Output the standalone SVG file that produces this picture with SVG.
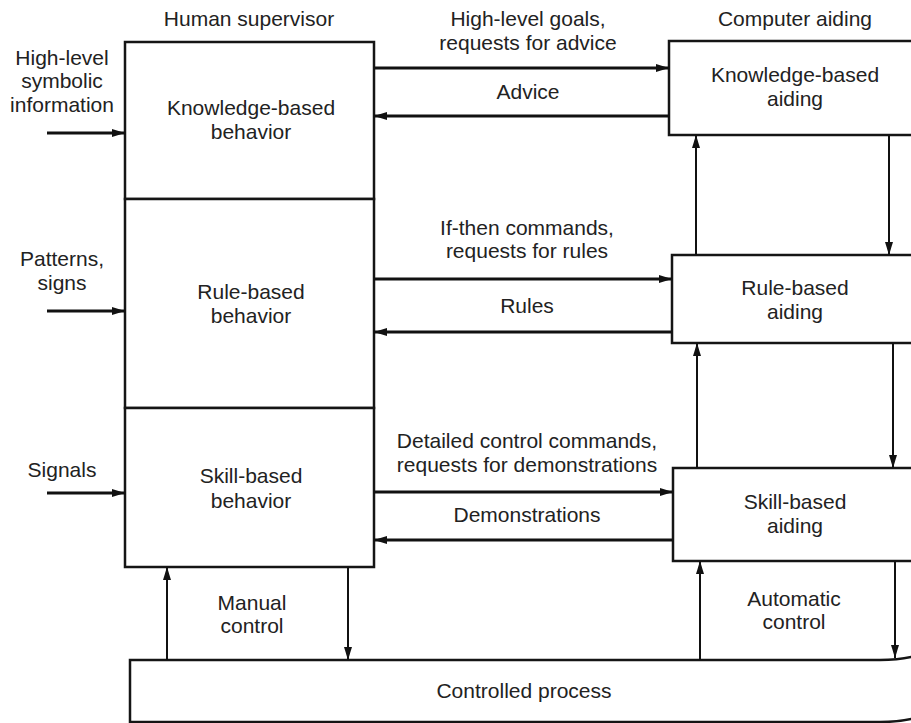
<svg xmlns="http://www.w3.org/2000/svg" width="911" height="723" viewBox="0 0 911 723">
  <defs>
    <style>
      .box { fill: #ffffff; stroke: #151515; stroke-width: 2.5; }
      .lbl { font-family: "Liberation Sans", Arial, Helvetica, sans-serif; font-size: 21px; fill: #222222; text-anchor: middle; }
      .thick { stroke: #111111; stroke-width: 3; fill: none; }
      .thin { stroke: #111111; stroke-width: 2; fill: none; }
    </style>
    <marker id="head" markerUnits="userSpaceOnUse" markerWidth="14" markerHeight="10" refX="13" refY="5" orient="auto">
      <path d="M0,1 L13,5 L0,9 z" fill="#111111"/>
    </marker>
  </defs>

  <rect width="911" height="723" fill="#ffffff"/>

  <!-- column headings -->
  <text class="lbl" x="249" y="26">Human supervisor</text>
  <text class="lbl" x="795" y="26">Computer aiding</text>

  <!-- human supervisor levels -->
  <g id="knowledge-behavior">
    <rect class="box" x="125" y="42" width="249" height="157"/>
    <text class="lbl" x="251" y="115">Knowledge-based</text>
    <text class="lbl" x="251" y="139">behavior</text>
  </g>
  <g id="rule-behavior">
    <rect class="box" x="125" y="199" width="249" height="209"/>
    <text class="lbl" x="251" y="299">Rule-based</text>
    <text class="lbl" x="251" y="323">behavior</text>
  </g>
  <g id="skill-behavior">
    <rect class="box" x="125" y="408" width="249" height="159"/>
    <text class="lbl" x="251" y="483">Skill-based</text>
    <text class="lbl" x="251" y="508">behavior</text>
  </g>

  <!-- computer aiding levels (right edges run off the page) -->
  <g id="knowledge-aiding">
    <rect class="box" x="669" y="41" width="260" height="94"/>
    <text class="lbl" x="795" y="82">Knowledge-based</text>
    <text class="lbl" x="795" y="106">aiding</text>
  </g>
  <g id="rule-aiding">
    <rect class="box" x="672" y="255" width="260" height="88"/>
    <text class="lbl" x="795" y="295">Rule-based</text>
    <text class="lbl" x="795" y="319">aiding</text>
  </g>
  <g id="skill-aiding">
    <rect class="box" x="673" y="468" width="260" height="93"/>
    <text class="lbl" x="795" y="509">Skill-based</text>
    <text class="lbl" x="795" y="533">aiding</text>
  </g>

  <!-- process at the bottom -->
  <g id="controlled-process">
    <path class="box" d="M130,660 L880,660 Q900,660 915,656 L915,718 Q900,722 880,722 L130,722 z"/>
    <text class="lbl" x="524" y="698">Controlled process</text>
  </g>

  <!-- input labels on the left -->
  <g id="inputs">
    <text class="lbl" x="62" y="65">High-level</text>
    <text class="lbl" x="62" y="88">symbolic</text>
    <text class="lbl" x="62" y="112">information</text>
    <text class="lbl" x="62" y="266">Patterns,</text>
    <text class="lbl" x="62" y="290">signs</text>
    <text class="lbl" x="62" y="477">Signals</text>
  </g>

  <!-- connector labels -->
  <g id="connector-labels">
    <text class="lbl" x="528" y="26">High-level goals,</text>
    <text class="lbl" x="528" y="50">requests for advice</text>
    <text class="lbl" x="528" y="99">Advice</text>
    <text class="lbl" x="527" y="235">If-then commands,</text>
    <text class="lbl" x="527" y="258">requests for rules</text>
    <text class="lbl" x="527" y="313">Rules</text>
    <text class="lbl" x="527" y="448">Detailed control commands,</text>
    <text class="lbl" x="527" y="472">requests for demonstrations</text>
    <text class="lbl" x="527" y="522">Demonstrations</text>
    <text class="lbl" x="252" y="610">Manual</text>
    <text class="lbl" x="252" y="633">control</text>
    <text class="lbl" x="794" y="606">Automatic</text>
    <text class="lbl" x="794" y="629">control</text>
  </g>

  <!-- connectors -->
  <g id="connectors">
    <!-- inputs to the supervisor -->
    <line class="thick" x1="47" y1="133" x2="125" y2="133" marker-end="url(#head)"/>
    <line class="thick" x1="47" y1="311" x2="125" y2="311" marker-end="url(#head)"/>
    <line class="thick" x1="47" y1="493" x2="125" y2="493" marker-end="url(#head)"/>

    <!-- supervisor <-> aiding exchanges -->
    <line class="thick" x1="374" y1="68" x2="669" y2="68" marker-end="url(#head)"/>
    <line class="thick" x1="669" y1="116" x2="374" y2="116" marker-end="url(#head)"/>
    <line class="thick" x1="374" y1="279" x2="672" y2="279" marker-end="url(#head)"/>
    <line class="thick" x1="672" y1="332" x2="374" y2="332" marker-end="url(#head)"/>
    <line class="thick" x1="374" y1="492" x2="673" y2="492" marker-end="url(#head)"/>
    <line class="thick" x1="673" y1="540" x2="374" y2="540" marker-end="url(#head)"/>

    <!-- links between aiding levels -->
    <line class="thin" x1="696" y1="255" x2="696" y2="135" marker-end="url(#head)"/>
    <line class="thin" x1="889" y1="135" x2="889" y2="255" marker-end="url(#head)"/>
    <line class="thin" x1="697" y1="468" x2="697" y2="343" marker-end="url(#head)"/>
    <line class="thin" x1="893" y1="343" x2="893" y2="468" marker-end="url(#head)"/>

    <!-- manual control loop -->
    <line class="thin" x1="167" y1="660" x2="167" y2="567" marker-end="url(#head)"/>
    <line class="thin" x1="348" y1="567" x2="348" y2="660" marker-end="url(#head)"/>

    <!-- automatic control loop -->
    <line class="thin" x1="700" y1="660" x2="700" y2="561" marker-end="url(#head)"/>
    <line class="thin" x1="895" y1="561" x2="895" y2="658" marker-end="url(#head)"/>
  </g>
</svg>
